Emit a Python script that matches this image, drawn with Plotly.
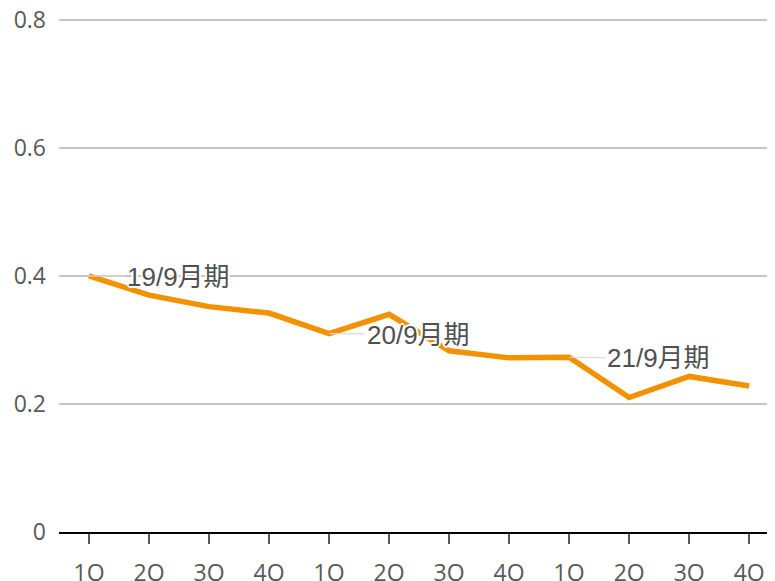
import plotly.graph_objects as go

quarters = ["1Q", "2Q", "3Q", "4Q", "1Q", "2Q", "3Q", "4Q", "1Q", "2Q", "3Q", "4Q"]
values = [0.40, 0.37, 0.352, 0.342, 0.31, 0.34, 0.283, 0.272, 0.273, 0.21, 0.243, 0.228]
period_labels = ["19/9月期", "20/9月期", "21/9月期"]
period_start_idx = [0, 4, 8]
y_ticks = [0, 0.2, 0.4, 0.6, 0.8]
y_ticktext = ["0", "0.2", "0.4", "0.6", "0.8"]

x_idx = list(range(len(quarters)))

fig = go.Figure()
fig.add_trace(go.Scatter(
    x=x_idx, y=values, mode="lines",
    line=dict(color="#F39200", width=5.5),
    hoverinfo="skip", showlegend=False,
))

halo = ("white 1px 1px 0px, white -1px -1px 0px, white 1px -1px 0px, white -1px 1px 0px, "
        "white 2px 0px 0px, white -2px 0px 0px, white 0px 2px 0px, white 0px -2px 0px")
for lab, i in zip(period_labels, period_start_idx):
    fig.add_annotation(
        x=i, y=values[i], xref="x", yref="y",
        text=lab, showarrow=True, arrowhead=0, arrowwidth=1.2,
        arrowcolor="#d9d9d9", ax=89, ay=1, axref="pixel", ayref="pixel",
        standoff=0,
        font=dict(family="Liberation Sans, Noto Sans CJK JP", size=26, color="#505050",
                  shadow=halo),
    )

tick_font = dict(family="Open Sans, Noto Sans", size=23, color="#595959")
# page body has an 8px margin, so the figure is sized to end at the window edge
fig.update_layout(
    width=767, height=573,
    margin=dict(l=51, r=0, t=8, b=49),
    paper_bgcolor="white", plot_bgcolor="white",
    xaxis=dict(
        range=[-0.5, 11.43], tickmode="array", tickvals=x_idx, ticktext=quarters,
        showgrid=False, zeroline=False, automargin=False,
        showline=True, linecolor="black", linewidth=2,
        ticks="outside", ticklen=10, tickwidth=1.5, tickcolor="#595959",
        tickfont=tick_font, ticklabelstandoff=9, ticklabeloverflow="allow",
    ),
    yaxis=dict(
        range=[0, 0.806], tickmode="array", tickvals=y_ticks, ticktext=y_ticktext,
        showgrid=True, gridcolor="#c6c6c6", gridwidth=1.5, automargin=False,
        zeroline=False, showline=False, ticks="",
        tickfont=tick_font, ticklabelstandoff=12, ticklabeloverflow="allow",
    ),
)

fig.write_html("out.html")
